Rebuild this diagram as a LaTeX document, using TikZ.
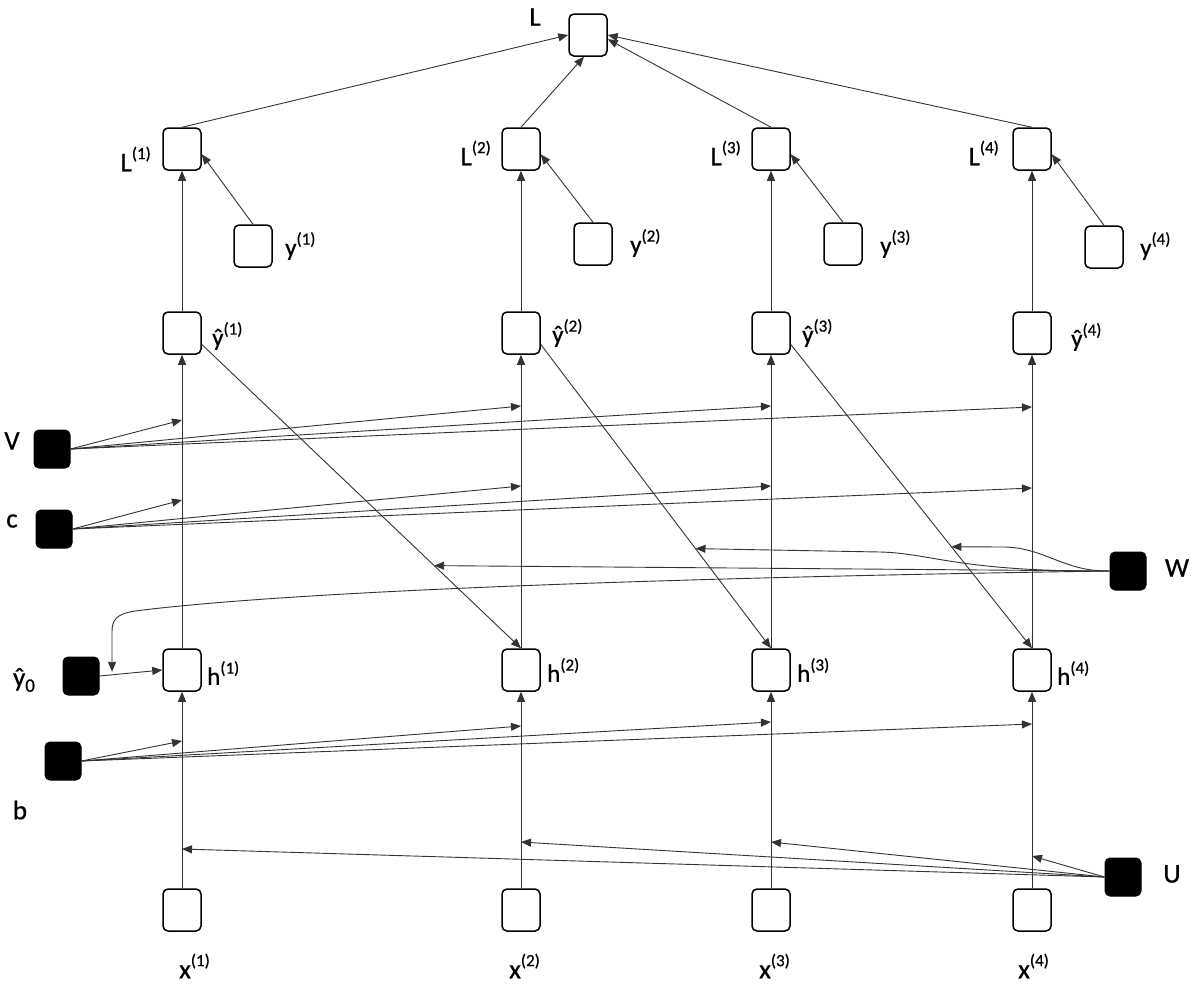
\documentclass[tikz,border=0pt]{standalone}
\usepackage{fontspec}
\setmainfont{Carlito}[FakeBold=0.7]
\usetikzlibrary{arrows.meta,calc}
\newcommand{\supx}[1]{\raisebox{0.45em}{\fontsize{17}{17}\selectfont(#1)}}
\newcommand{\subx}[1]{\raisebox{-0.2em}{\fontsize{19}{19}\selectfont #1}}
\begin{document}
\begin{tikzpicture}[x=1pt,y=-1pt,
  box/.style={draw, line width=1.5pt, rounded corners=5pt, minimum width=38pt, minimum height=42pt, inner sep=0pt, fill=white},
  blk/.style={draw, fill=black, line width=1pt, rounded corners=5pt, minimum width=36pt, minimum height=38pt, inner sep=0pt},
  conn/.style={draw=black!80, line width=0.9pt, -{Triangle[length=10pt,width=8pt]}},
  lbl/.style={font=\fontsize{25}{29}\selectfont, inner sep=0pt},
  lblb/.style={font=\fontsize{27}{31}\selectfont, inner sep=0pt}]
\useasboundingbox (0,0) rectangle (1200,986);
\fill[white] (0,0) rectangle (1200,986);

% white boxes
\node[box] (L) at (588,35) {};
\foreach \i/\xx in {1/182,2/521,3/771,4/1032}{
  \node[box] (L\i) at (\xx,149) {};
  \node[box] (yh\i) at (\xx,333) {};
  \node[box] (h\i) at (\xx,670) {};
  \node[box] (x\i) at (\xx,910) {};
}
\node[box] (y1) at (253,246) {};
\node[box] (y2) at (593,244) {};
\node[box] (y3) at (843,244) {};
\node[box] (y4) at (1104,247) {};

% black boxes
\node[blk] (V) at (52,449) {};
\node[blk] (c) at (54,529) {};
\node[blk] (W) at (1128,571) {};
\node[blk] (y0) at (81,676) {};
\node[blk] (b) at (63,761) {};
\node[blk] (U) at (1123,877) {};

% labels
\node[lblb] (tL) at (535,17) {L};
\node[lblb,anchor=east] (tL1) at (151,159) {L\supx{1}};
\node[lblb,anchor=east] (tL2) at (491,153) {L\supx{2}};
\node[lblb,anchor=east] (tL3) at (741,153) {L\supx{3}};
\node[lblb,anchor=east] (tL4) at (999,153) {L\supx{4}};
\node[lbl,anchor=west] (ty1) at (285,246) {y\supx{1}};
\node[lbl,anchor=west] (ty2) at (630,243) {y\supx{2}};
\node[lbl,anchor=west] (ty3) at (880,244) {y\supx{3}};
\node[lbl,anchor=west] (ty4) at (1140,246) {y\supx{4}};
\node[lbl,anchor=west] (tyh1) at (212,336) {ŷ\supx{1}};
\node[lbl,anchor=west] (tyh2) at (552,333) {ŷ\supx{2}};
\node[lbl,anchor=west] (tyh3) at (802,333) {ŷ\supx{3}};
\node[lbl,anchor=west] (tyh4) at (1071,337) {ŷ\supx{4}};
\node[lbl,anchor=west] (th1) at (207,673) {h\supx{1}};
\node[lbl,anchor=west] (th2) at (547,670) {h\supx{2}};
\node[lbl,anchor=west] (th3) at (797,670) {h\supx{3}};
\node[lbl,anchor=west] (th4) at (1057,673) {h\supx{4}};
\node[lblb,anchor=west] (tx1) at (179,966) {x\supx{1}};
\node[lblb,anchor=west] (tx2) at (509,966) {x\supx{2}};
\node[lblb,anchor=west] (tx3) at (759,966) {x\supx{3}};
\node[lblb,anchor=west] (tx4) at (1018,966) {x\supx{4}};
\node[lblb] (tV) at (12,441) {V};
\node[lblb] (tc) at (12,521) {c};
\node[lblb] (tW) at (1177,568) {W};
\node[lblb] (ty0) at (24,680) {ŷ\subx{0}};
\node[lblb] (tb) at (20,810) {b};
\node[lblb] (tU) at (1172,874) {U};

% vertical chains
\foreach \i in {1,2,3,4}{
  \draw[conn] (x\i.north) -- (h\i.south);
  \draw[conn] (h\i.north) -- (yh\i.south);
  \draw[conn] (yh\i.north) -- (L\i.south);
  \draw[conn] (y\i.north) -- (L\i.-15);
}
% losses to L
\draw[conn] (L1.north) -- (L.west);
\draw[conn] (L2.north) -- ($(L.south)+(-4,0)$);
\draw[conn] (L3.north) -- (L.-12);
\draw[conn] (L4.north) -- (L.east);

% yhat to next h
\draw[conn] (yh1.-30) -- (h2.north) coordinate[pos=0.728] (w1);
\draw[conn] (yh2.-30) -- (h3.north) coordinate[pos=0.672] (w2);
\draw[conn] (yh3.-30) -- (h4.north) coordinate[pos=0.666] (w3);
\draw[conn] (y0.east) -- (h1.west) coordinate[pos=0.2] (w0);

% named points on lines
\foreach \n/\xx/\yy in {v1/182/420,v2/521/406,v3/771/406,v4/1032/407,
  c1/182/500,c2/521/486,c3/771/486,c4/1032/488,
  b1/182/741,b2/521/726,b3/771/722,b4/1032/724,
  u1/182/849,u2/521/842,u3/771/842,u4/1032/856}{
  \coordinate (\n) at (\xx,\yy);
}
\foreach \i in {1,2,3,4}{
  \draw[conn] (V.east) -- (v\i);
  \draw[conn] (c.east) -- (c\i);
  \draw[conn] (b.east) -- (b\i);
  \draw[conn] (U.west) -- (u\i);
}

% W connections
\draw[conn] (W.west) -- (w1);
\draw[conn] (W.west) .. controls (960,572) and (930,553) .. (880,552) -- (w2);
\draw[conn] (W.west) .. controls (1065,572) and (1045,548) .. (1005,547) -- (w3);
\draw[conn] (W.west) .. controls (700,577) and (300,590) .. (135,611)
  .. controls (116,614) and (112,620) .. (112,632) -- ($(w0)+(0,-3)$);
\end{tikzpicture}
\end{document}
